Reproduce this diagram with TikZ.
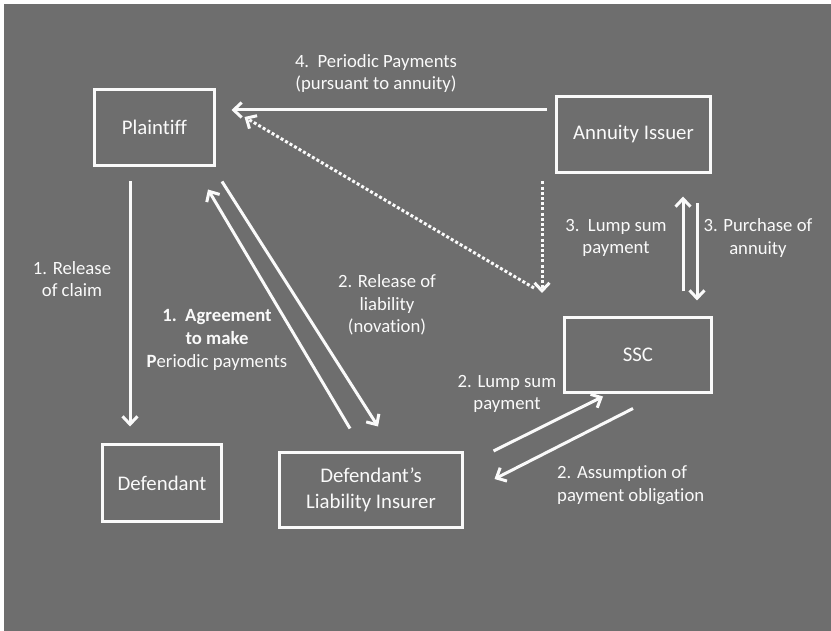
\documentclass[tikz,border=0pt]{standalone}
\usepackage{fontspec}
\setmainfont{Carlito}[RawFeature={-liga}]
\usetikzlibrary{arrows.meta}
\definecolor{bg}{RGB}{110,110,110}
\definecolor{fg}{RGB}{250,250,250}
\begin{document}
\begin{tikzpicture}[x=1pt,y=-1pt,
  box/.style={draw=fg,line width=3pt,text=fg,minimum width=#1,inner sep=0pt,align=center,
    font=\fontsize{20.8}{26}\selectfont},
  lbl/.style={text=fg,inner sep=0pt,align=center,font=\fontsize{18.7}{22.8}\selectfont},
  arr/.style={draw=fg,line width=3pt,-{Straight Barb[length=8pt,width=15pt,line width=3pt]}},
  dot/.style={arr,dash pattern=on 3pt off 2.2pt}]
\useasboundingbox (0,0) rectangle (831,631);
\fill[white] (0,0) rectangle (831,631);
\fill[bg] (4,4) rectangle (831,631);
% boxes
\node[box=120pt,minimum height=76pt] (pl) at (154.5,127.5) {Plaintiff};
\node[box=154pt,minimum height=76pt] (ai) at (633.5,134.5) {Annuity Issuer};
\node[box=147pt,minimum height=75pt] (ssc) at (638,355) {SSC};
\node[box=119pt,minimum height=77pt] (def) at (162,483) {Defendant};
\node[box=183pt,minimum height=75pt] (dli) at (371,490) {Defendant’s\\Liability Insurer};
% arrows
\draw[arr] ([shift={(-8.5,-24.5)}]ai.west) -- ([shift={(15.5,-17.5)}]pl.east);
\coordinate (dj) at (542,293);
\coordinate (dk) at (534,288);
\draw[dot] ([shift={(-91.5,7.5)}]ai.south) -- (dj);
\draw[dot] (dk) -- ([shift={(28.5,-10.5)}]pl.east);
\draw[arr] ([shift={(-24.5,14.5)}]pl.south) -- ([shift={(-32,-16.5)}]def.north);
\draw[arr] ([shift={(-21,-22.5)}]dli.north) -- ([shift={(53.5,22.5)}]pl.south);
\draw[arr] ([shift={(67.5,14.5)}]pl.south) -- ([shift={(7,-24.5)}]dli.north);
\draw[arr] ([shift={(45,-24.5)}]ssc.north) -- ([shift={(49.5,22.5)}]ai.south);
\draw[arr] ([shift={(63.5,29.5)}]ai.south) -- ([shift={(59,-15.5)}]ssc.north);
\draw[arr] ([shift={(29.5,-39)}]dli.east) -- ([shift={(-35,2.5)}]ssc.south);
\draw[arr] ([shift={(-5,14.5)}]ssc.south) -- ([shift={(30.5,-11)}]dli.east);
% labels
\node[lbl] (l4) at (376,73.5) {4.\ \ Periodic Payments\\(pursuant to annuity)};
\node[lbl] (l1a) at (72,279) {1. Release\\of claim};
\node[lbl] (l1b) at (217,340) {\textbf{1.\ \ Agreement}\\\textbf{to make}\\\textbf{P}eriodic payments};
\node[lbl] (l2a) at (387,305) {2. Release of\\liability\\(novation)};
\node[lbl] (l3a) at (616,238) {3.\ \ Lump sum\\payment};
\node[lbl] (l3b) at (758,238) {3. Purchase of\\annuity};
\node[lbl] (l2b) at (507,394) {2. Lump sum\\payment};
\node[lbl,anchor=west,align=left] (l2c) at (557,485) {2. Assumption of\\payment obligation};
\end{tikzpicture}
\end{document}
